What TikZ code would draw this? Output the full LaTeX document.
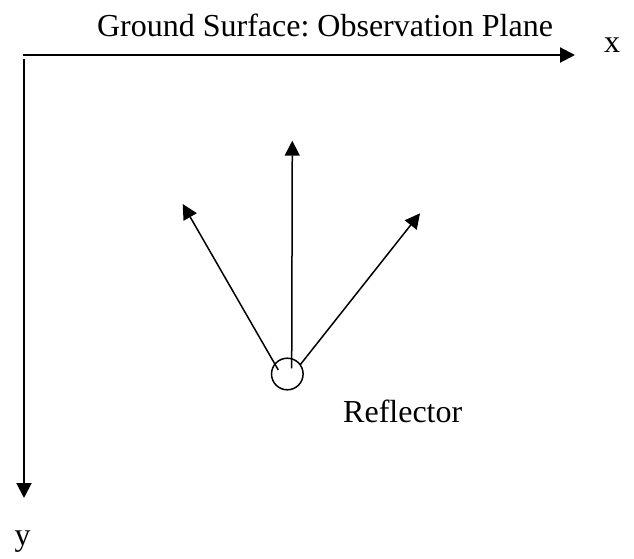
\documentclass[tikz,border=0pt]{standalone}
\usepackage{fontspec}
\setmainfont{Liberation Serif}
\usetikzlibrary{arrows.meta}
\frenchspacing
\begin{document}
\begin{tikzpicture}[x=1pt,y=-1pt,
  lbl/.style={inner sep=0pt,font=\fontsize{32}{38}\selectfont},
  axis/.style={line width=2pt,-{Triangle[length=15pt,width=15pt]}},
  ray/.style={line width=1.5pt,-{Triangle[length=15pt,width=15pt]}}]
\useasboundingbox (0,0) rectangle (634,559);
% axes
\coordinate (o) at (23,55);
\coordinate (xe) at (575,55);
\coordinate (yo) at (24,59);
\coordinate (ye) at (24,498);
\draw[axis] (o) -- (xe);
\draw[axis] (yo) -- (ye);
\node[lbl,anchor=base] (title) at (325,37) {Ground Surface: Observation Plane};
\node[lbl,anchor=base] (xl) at (612,53) {x};
\node[lbl,anchor=base] (yl) at (22.5,545) {y};
% reflector
\node[draw,circle,line width=1.5pt,minimum size=31.6pt,inner sep=0pt] (refl) at (287.3,374) {};
\node[lbl,anchor=base west] (rl) at (343,422) {Reflector};
\coordinate (sv) at (291.7,368.3);
\coordinate (sl) at (278.3,370);
\coordinate (sr) at (300,365);
\coordinate (tv) at (292.3,140.7);
\coordinate (tl) at (182.7,204);
\coordinate (tr) at (420,213.3);
\draw[ray] (sv) -- (tv);
\draw[ray] (sl) -- (tl);
\draw[ray] (sr) -- (tr);
\end{tikzpicture}
\end{document}
